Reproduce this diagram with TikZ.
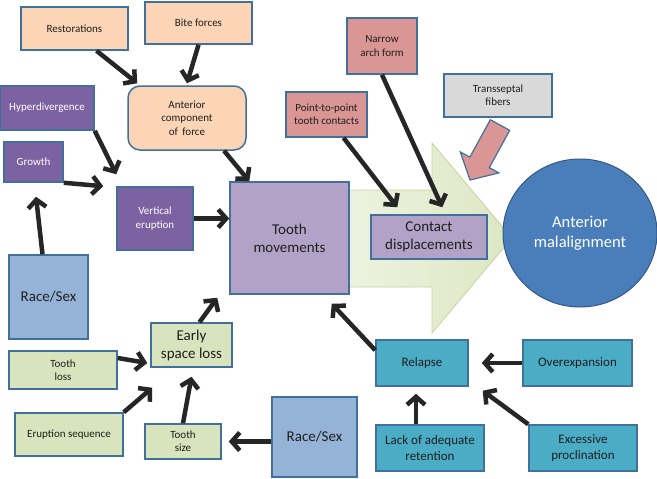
\documentclass[tikz,border=0pt]{standalone}
\usepackage{fontspec}
\setmainfont{Carlito}
\usetikzlibrary{arrows.meta,shapes.geometric}
\definecolor{bordblue}{HTML}{41709C}
\definecolor{linkgray}{HTML}{262626}
\definecolor{peachfill}{HTML}{FBD5B5}
\definecolor{darkpurple}{HTML}{7D62A2}
\definecolor{lightpurple}{HTML}{B3A2C7}
\definecolor{pinkfill}{HTML}{D99694}
\definecolor{grayfill}{HTML}{D9D9D9}
\definecolor{bluefill}{HTML}{4A7EBB}
\definecolor{skyfill}{HTML}{95B3D7}
\definecolor{greenfill}{HTML}{D7E4BD}
\definecolor{tealfill}{HTML}{4BACC6}
\definecolor{arrowlight}{HTML}{EEF3E1}
\definecolor{arrowdark}{HTML}{DCE7C3}
\begin{document}
\begin{tikzpicture}[x=1pt,y=-1pt]

    \tikzset{
      box/.style={
        draw=bordblue,
        line width=1.5pt,
        align=center,
        inner sep=2pt,
        text=black!88,
        font=\fontsize{11}{13.4}\selectfont,
      },
      medium/.style={font=\fontsize{13}{15.5}\selectfont},
      large/.style={font=\fontsize{15}{18}\selectfont},
      link/.style={
        draw=linkgray,
        line width=4.5pt,
        -{Straight Barb[length=8pt,width=18pt]},
      },
    }
    \useasboundingbox (0,0) rectangle (657,479);

    % big arrow behind
    \draw[draw=arrowdark!80!olive, line width=0.8pt, left color=arrowlight, right color=arrowdark]
      (340,190) -- (432,190) -- (432,143) -- (512,238) -- (432,333) -- (432,287) -- (340,287) -- cycle;
    \draw[draw=bordblue, line width=1.2pt, top color=pinkfill, middle color=pinkfill!35, bottom color=pinkfill]
      (509.7,130.3) -- (490.3,119.7) -- (469.9,157.1) -- (460.3,151.9) -- (470,180)
      -- (498.9,172.9) -- (489.3,167.7) -- cycle;

	\node[box, fill=peachfill, minimum width=107pt, minimum height=43pt] (rest) at (74.5,28.5) {Restorations};
	\node[box, fill=peachfill, minimum width=107pt, minimum height=42pt] (bite) at (198.5,23) {Bite forces};
	\node[box, fill=peachfill, rounded corners=12pt, minimum width=118pt, minimum height=64pt] (antc) at (187,118) {Anterior\\component\\of\, force};
	\node[box, fill=darkpurple, text=white, minimum width=94pt, minimum height=44pt] (hyper) at (47,108) {Hyperdivergence};
	\node[box, fill=darkpurple, text=white, minimum width=59pt, minimum height=40pt] (growth) at (33.5,162) {Growth};
	\node[box, fill=darkpurple, text=white, minimum width=76pt, minimum height=63pt] (vert) at (155,218.5) {Vertical\\eruption};
	\node[box, large, fill=lightpurple, minimum width=119pt, minimum height=112pt] (tmov) at (289.5,238) {Tooth\\movements};
	\node[box, fill=pinkfill, minimum width=70pt, minimum height=56pt] (narrow) at (382,46) {Narrow\\arch form};
	\node[box, fill=pinkfill, minimum width=81pt, minimum height=45pt] (ptp) at (326.5,114.5) {Point-to-point\\tooth contacts};
	\node[box, fill=grayfill, minimum width=108pt, minimum height=43pt] (trans) at (498,95.5) {Transseptal\\fibers};
	\node[box, large, fill=lightpurple, minimum width=116pt, minimum height=44pt] (contact) at (429,237) {Contact\\displacements};
	\node[ellipse, draw=bluefill!70!black, line width=1pt, fill=bluefill, text=white, align=center,
	  font=\fontsize{16.5}{20}\selectfont, minimum width=154pt, minimum height=148pt] (malign) at (580,233) {Anterior\\malalignment};
	\node[box, large, fill=skyfill, minimum width=79pt, minimum height=84pt] (raceL) at (48.5,297) {Race/Sex};
	\node[box, large, fill=greenfill, minimum width=81pt, minimum height=44pt] (early) at (191.5,345) {Early\\space loss};
	\node[box, fill=greenfill, minimum width=108pt, minimum height=38pt] (tloss) at (63,370) {Tooth\\loss};
	\node[box, fill=greenfill, minimum width=108pt, minimum height=43pt] (erupt) at (69,434.5) {Eruption sequence};
	\node[box, fill=greenfill, minimum width=76pt, minimum height=35pt] (tsize) at (183,441.5) {Tooth\\size};
	\node[box, large, fill=skyfill, minimum width=85pt, minimum height=80pt] (raceB) at (314.5,437) {Race/Sex};
	\node[box, medium, fill=tealfill, minimum width=92pt, minimum height=46pt] (relapse) at (422,363) {Relapse};
	\node[box, medium, fill=tealfill, minimum width=109pt, minimum height=46pt] (overex) at (577.5,363) {Overexpansion};
	\node[box, medium, fill=tealfill, minimum width=108pt, minimum height=46pt] (lack) at (430,448) {Lack of adequate\\retention};
	\node[box, medium, fill=tealfill, minimum width=108pt, minimum height=46pt] (excess) at (583,448) {Excessive\\proclination};

	\draw[link] ([xshift=22pt]rest.south) -- ([xshift=10pt,yshift=2pt]antc.north west);
	\draw[link] (bite.south) -- ([yshift=2pt]antc.north);
	\draw[link] (hyper.south east) -- ([yshift=12pt]vert.north west);
	\draw[link] (growth.south east) -- ([xshift=-13pt]vert.north west);
	\draw[link] ([xshift=-6pt]raceL.north) -- ([xshift=2.5pt,yshift=-14pt]growth.south);
	\draw[link] ([xshift=37pt]antc.south) -- ([xshift=20pt]tmov.north west);
	\draw[link] (vert.east) -- (vert.east -| tmov.west);
	\draw[link] ([xshift=8pt]early.north) -- ([xshift=-12pt,yshift=-3pt]tmov.south west);
	\draw[link] ([yshift=12pt]tloss.east) -- ([xshift=-3pt,yshift=-18pt]early.west);
	\draw[link] (erupt.north east) -- ([xshift=2pt,yshift=-20pt]early.south west);
	\draw[link] (tsize.north) -- ([yshift=-9pt]early.south);
	\draw[link] (raceB.west |- tsize.east) -- ([xshift=7pt]tsize.east);
	\draw[link] ([yshift=-11pt]relapse.north west) -- ([xshift=-18pt,yshift=-9pt]tmov.south east);
	\draw[link] (overex.west) -- ([xshift=13pt]relapse.east);
	\draw[link] ([xshift=-14pt]lack.north) -- ([xshift=-6pt,yshift=-7pt]relapse.south);
	\draw[link] (excess.north west) -- ([xshift=14pt,yshift=-4pt]relapse.south east);
	\draw[link] ([xshift=17pt]ptp.south) -- ([xshift=27pt,yshift=7pt]contact.north west);
	\draw[link] (narrow.south) -- ([xshift=72pt,yshift=7pt]contact.north west);

\end{tikzpicture}
\end{document}
